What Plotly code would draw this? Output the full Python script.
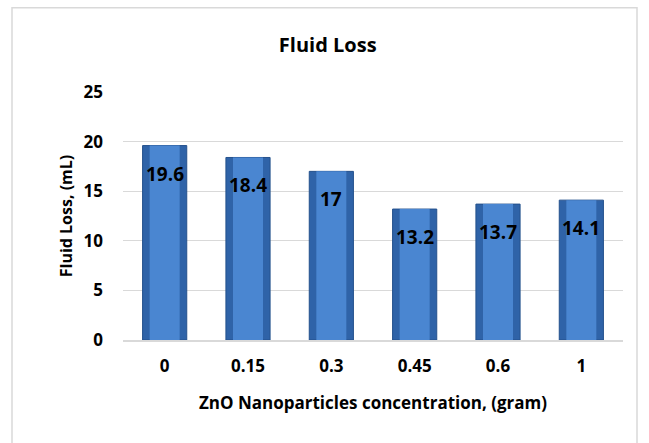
import plotly.graph_objects as go

categories = ["0", "0.15", "0.3", "0.45", "0.6", "1"]
fluid_loss = [19.6, 18.4, 17, 13.2, 13.7, 14.1]
y_ticks = [0, 5, 10, 15, 20, 25]

FONT = "Open Sans"
positions = list(range(len(categories)))

fig = go.Figure()
# outer (darker) bar body
fig.add_trace(go.Bar(
    x=positions, y=fluid_loss, width=0.53,
    marker=dict(color="#2f63a8", line=dict(color="#24518c", width=1)),
    hoverinfo="skip", showlegend=False,
))
# inner highlight
fig.add_trace(go.Bar(
    x=positions, y=fluid_loss, width=0.36,
    marker=dict(color="#4a86d1", line=dict(width=0)),
    hoverinfo="skip", showlegend=False,
))

for p, v in zip(positions, fluid_loss):
    fig.add_annotation(x=p, y=v, text=f"<b>{v:g}</b>", showarrow=False,
                       yanchor="top", yshift=-13,
                       font=dict(family=FONT, size=19, color="#000000"))

fig.add_shape(type="rect", xref="paper", yref="paper",
              x0=-0.222, x1=1.028, y0=-0.45, y1=1.34,
              line=dict(color="#d9d9d9", width=1.5), fillcolor="rgba(0,0,0,0)",
              layer="below")

fig.update_layout(
    width=649, height=443,
    margin=dict(l=123, r=26, t=92, b=103),
    paper_bgcolor="white", plot_bgcolor="white",
    barmode="overlay",
    title=dict(text="<b>Fluid Loss</b>", x=0.505, xanchor="center",
               y=0.898, yanchor="middle",
               font=dict(family=FONT, size=20, color="#000000")),
    xaxis=dict(
        range=[-0.5, 5.5], tickvals=positions, ticktext=[f"<b>{c}</b>" for c in categories],
        showgrid=False, ticks="", zeroline=False,
        showline=True, linecolor="#d9d9d9", linewidth=1.5,
        tickfont=dict(family=FONT, size=17, color="#000000"),
        title=dict(text="<b>ZnO Nanoparticles concentration, (gram)</b>",
                   font=dict(family=FONT, size=17, color="#000000"), standoff=21),
        ticklabelstandoff=10,
    ),
    yaxis=dict(
        range=[0, 25], tickvals=y_ticks, ticktext=[f"<b>{t}</b>" for t in y_ticks],
        showgrid=True, gridcolor="#d9d9d9",
        gridwidth=1, zeroline=False, showline=False, ticks="",
        tickfont=dict(family=FONT, size=17, color="#000000"),
        title=dict(text="<b>Fluid Loss, (mL)</b>",
                   font=dict(family=FONT, size=16, color="#000000"), standoff=6),
        ticklabelstandoff=19,
    ),
)

fig.write_html("out.html")
